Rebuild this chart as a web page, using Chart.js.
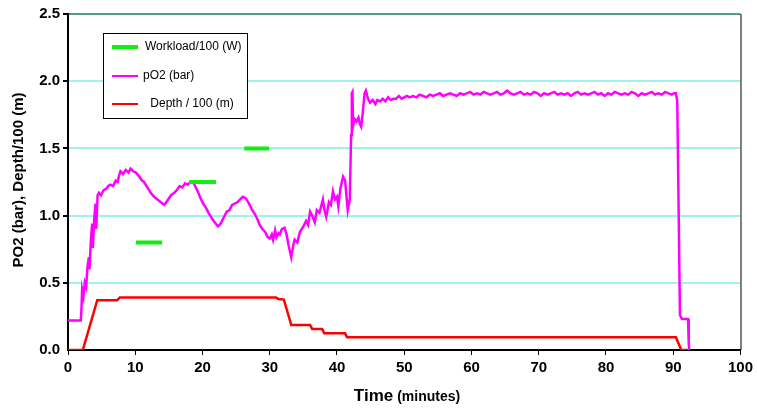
<!DOCTYPE html>
<html>
<head>
<meta charset="utf-8">
<script src="https://cdn.jsdelivr.net/npm/chart.js@4.4.1/dist/chart.umd.min.js"></script>
<style>
    html, body { margin: 0; padding: 0; background: #fff; }
    #wrap { width: 757px; height: 408px; }
</style>
</head>
<body>
<div id="wrap"><canvas id="myChart"></canvas></div>
<script>
// time in minutes
const pO2Time = [0, 1.0, 1.9, 2.0, 2.1, 2.3, 2.5, 2.7, 2.9, 3.1, 3.2, 3.4, 3.6, 3.7, 3.9, 4.1, 4.2, 4.4, 4.6, 4.9,
    5.3, 5.7, 6.0, 6.3, 6.7, 7.1, 7.4, 7.6, 7.8, 8.2, 8.6, 9.0, 9.3, 9.7, 10.1, 10.6, 11.0, 11.3, 11.8, 12.3,
    12.8, 13.3, 13.8, 14.3, 14.5, 14.9, 15.3, 15.8, 16.2, 16.6, 17.0, 17.4, 17.8, 18.2, 18.6, 18.9, 19.3, 19.7, 20.1, 20.5,
    20.9, 21.4, 21.8, 22.3, 22.7, 23.1, 23.6, 24.0, 24.4, 24.8, 25.2, 25.6, 26.0, 26.4, 26.8, 27.3, 27.8, 28.2, 28.5, 28.9,
    29.3, 29.7, 30.0, 30.3, 30.5, 30.8, 31.0, 31.3, 31.5, 31.8, 32.2, 32.5, 32.8, 33.2, 33.5, 33.7, 34.1, 34.5, 35.0, 35.4,
    35.7, 36.0, 36.3, 36.7, 37.0, 37.4, 37.9, 38.1, 38.4, 38.8, 39.1, 39.4, 39.7, 40.0, 40.2, 40.5, 40.9, 41.2, 41.6, 41.9,
    42.1, 42.2, 42.3, 42.4, 42.6, 42.9, 43.2, 43.4, 43.6, 43.9, 44.1, 44.3, 44.6, 44.9, 45.3, 45.7, 46.0, 46.4, 46.8, 47.2,
    47.6, 48.0, 48.4, 48.8, 49.2, 49.6, 50.0, 50.4, 50.8, 51.3, 51.8, 52.3, 52.8, 53.3, 53.8, 54.3, 54.8, 55.3, 55.8, 56.3,
    56.8, 57.3, 57.8, 58.3, 58.8, 59.3, 59.8, 60.3, 60.8, 61.3, 61.8, 62.3, 62.8, 63.3, 63.8, 64.3, 64.8, 65.3, 65.8, 66.3,
    66.8, 67.3, 67.8, 68.3, 68.8, 69.3, 69.8, 70.3, 70.8, 71.3, 71.8, 72.3, 72.8, 73.3, 73.8, 74.3, 74.8, 75.3, 75.8, 76.3,
    76.8, 77.3, 77.8, 78.3, 78.8, 79.3, 79.8, 80.3, 80.8, 81.3, 81.8, 82.3, 82.8, 83.3, 83.8, 84.3, 84.8, 85.3, 85.8, 86.3,
    86.8, 87.3, 87.8, 88.3, 88.8, 89.3, 89.8, 90.1, 90.4, 90.6, 91.0, 91.3, 91.7, 92.2, 92.3, 92.4];
const pO2Values = [0.22, 0.22, 0.22, 0.30, 0.45, 0.40, 0.50, 0.47, 0.62, 0.69, 0.60, 0.82, 0.94, 0.76, 0.98, 1.09, 0.90, 1.15, 1.17, 1.15,
    1.19, 1.20, 1.22, 1.23, 1.22, 1.26, 1.25, 1.30, 1.33, 1.31, 1.34, 1.32, 1.35, 1.33, 1.32, 1.29, 1.26, 1.25, 1.21, 1.17,
    1.14, 1.12, 1.10, 1.08, 1.09, 1.12, 1.15, 1.17, 1.19, 1.22, 1.21, 1.24, 1.23, 1.25, 1.25, 1.22, 1.18, 1.13, 1.09, 1.06,
    1.02, 0.98, 0.95, 0.92, 0.94, 0.98, 1.03, 1.04, 1.08, 1.09, 1.10, 1.12, 1.14, 1.13, 1.10, 1.05, 1.01, 0.97, 0.93, 0.90,
    0.88, 0.84, 0.83, 0.86, 0.82, 0.89, 0.84, 0.87, 0.86, 0.90, 0.91, 0.86, 0.78, 0.69, 0.78, 0.82, 0.80, 0.88, 0.92, 0.96,
    0.93, 1.03, 1.00, 0.95, 1.04, 1.02, 1.12, 1.05, 0.99, 1.10, 1.08, 1.18, 1.12, 1.14, 1.07, 1.20, 1.29, 1.26, 1.04, 1.12,
    1.60, 1.91, 1.92, 1.67, 1.72, 1.70, 1.73, 1.68, 1.66, 1.80, 1.91, 1.93, 1.87, 1.84, 1.86, 1.83, 1.86, 1.85, 1.87, 1.85,
    1.88, 1.86, 1.87, 1.87, 1.89, 1.87, 1.88, 1.89, 1.88, 1.89, 1.88, 1.90, 1.89, 1.88, 1.90, 1.89, 1.90, 1.91, 1.89, 1.90,
    1.91, 1.90, 1.89, 1.91, 1.90, 1.91, 1.92, 1.90, 1.91, 1.90, 1.92, 1.91, 1.90, 1.91, 1.92, 1.90, 1.91, 1.93, 1.91, 1.90,
    1.91, 1.92, 1.90, 1.91, 1.90, 1.92, 1.91, 1.89, 1.91, 1.90, 1.91, 1.92, 1.90, 1.91, 1.90, 1.91, 1.89, 1.91, 1.92, 1.90,
    1.91, 1.90, 1.91, 1.92, 1.90, 1.91, 1.89, 1.91, 1.90, 1.92, 1.91, 1.90, 1.91, 1.90, 1.92, 1.91, 1.89, 1.91, 1.90, 1.91,
    1.92, 1.90, 1.91, 1.90, 1.92, 1.91, 1.90, 1.91, 1.91, 1.85, 0.26, 0.23, 0.23, 0.23, 0.05, 0.0];

const depthTime = [0, 2.2, 4.35, 7.3, 7.7, 30.9, 31.3, 32.1, 33.2, 36.0, 36.3, 37.8, 38.1, 41.2, 41.5, 90.4, 91.2, 92.4];
const depthValues = [0, 0, 0.37, 0.37, 0.39, 0.39, 0.38, 0.375, 0.186, 0.186, 0.157, 0.157, 0.124, 0.124, 0.094, 0.094, 0, 0];

const workloadStart = [10.1, 18.0, 26.2];
const workloadEnd = [14.0, 22.0, 29.9];
const workloadLevel = [0.8, 1.25, 1.5];

const xTicks = [0, 10, 20, 30, 40, 50, 60, 70, 80, 90, 100];
const yTicks = [0, 0.5, 1.0, 1.5, 2.0, 2.5];

const labels = ['Workload/100 (W)', 'pO2 (bar)', ' Depth / 100 (m)'];
const colors = ['#11ee11', '#ff00ff', '#ff0000'];

function toPoints(xs, ys) {
    return xs.map((x, i) => ({ x: x, y: ys[i] }));
}

let workloadPoints = [];
for (let i = 0; i < workloadStart.length; i++) {
    workloadPoints.push({ x: workloadStart[i], y: workloadLevel[i] });
    workloadPoints.push({ x: workloadEnd[i], y: workloadLevel[i] });
    workloadPoints.push({ x: workloadEnd[i] + 0.01, y: null });
}

const font = '"Liberation Sans", Arial, sans-serif';

const decorPlugin = {
    id: 'decor',
    afterDraw(chart) {
        const ctx = chart.ctx;
        const area = chart.chartArea;
        ctx.save();
        // right frame line
        ctx.strokeStyle = '#000';
        ctx.lineWidth = 1;
        ctx.beginPath();
        ctx.moveTo(area.right + 0.5, area.top);
        ctx.lineTo(area.right + 0.5, area.bottom);
        ctx.stroke();

        // legend box
        const bx = 103, by = 33, bw = 144, bh = 85;
        ctx.fillStyle = '#fff';
        ctx.fillRect(bx, by, bw, bh);
        ctx.strokeStyle = '#000';
        ctx.strokeRect(bx + 0.5, by + 0.5, bw, bh);
        const rows = [47, 76, 104];
        const widths = [4, 2, 2];
        const textX = [145, 143, 147];
        ctx.font = '12px ' + font;
        ctx.textBaseline = 'middle';
        for (let i = 0; i < labels.length; i++) {
            ctx.strokeStyle = colors[i];
            ctx.lineWidth = widths[i];
            ctx.beginPath();
            ctx.moveTo(112, rows[i]);
            ctx.lineTo(138, rows[i]);
            ctx.stroke();
            ctx.fillStyle = '#000';
            ctx.textAlign = 'left';
            ctx.fillText(labels[i], textX[i], rows[i]);
        }

        // x axis title: mixed font sizes
        ctx.fillStyle = '#000';
        ctx.textBaseline = 'alphabetic';
        ctx.textAlign = 'left';
        const part1 = 'Time', part2 = ' (minutes)';
        ctx.font = 'bold 17px ' + font;
        const w1 = ctx.measureText(part1).width;
        ctx.font = 'bold 14px ' + font;
        const w2 = ctx.measureText(part2).width;
        const cx = 407;
        let sx = cx - (w1 + w2) / 2;
        ctx.font = 'bold 17px ' + font;
        ctx.fillText(part1, sx, 401);
        ctx.font = 'bold 14px ' + font;
        ctx.fillText(part2, sx + w1, 401);

        // y axis title
        ctx.translate(19, 180);
        ctx.rotate(-Math.PI / 2);
        ctx.textAlign = 'center';
        ctx.textBaseline = 'middle';
        ctx.font = 'bold 15px ' + font;
        ctx.fillText('PO2 (bar), Depth/100 (m)', 0, 0);
        ctx.restore();
    }
};

const ctx = document.getElementById('myChart').getContext('2d');
const myChart = new Chart(ctx, {
    type: 'line',
    data: {
        datasets: [{
            label: labels[0],
            data: workloadPoints,
            borderColor: colors[0],
            borderWidth: 4,
            pointRadius: 0,
            spanGaps: false,
        }, {
            label: labels[1],
            data: toPoints(pO2Time, pO2Values),
            borderColor: colors[1],
            borderWidth: 2.5,
            pointRadius: 0,
        }, {
            label: labels[2],
            data: toPoints(depthTime, depthValues),
            borderColor: colors[2],
            borderWidth: 2.5,
            pointRadius: 0,
        }]
    },
    options: {
        responsive: true,
        maintainAspectRatio: false,
        animation: false,
        layout: { padding: { left: 0, right: 16, top: 14, bottom: 0 } },
        scales: {
            x: {
                type: 'linear',
                min: 0,
                max: 100,
                afterBuildTicks: scale => { scale.ticks = xTicks.map(v => ({ value: v })); },
                afterFit: scale => { scale.height = 58; },
                border: { color: '#000', width: 2 },
                grid: { drawOnChartArea: false, tickColor: '#000', tickLength: 5, tickWidth: 1 },
                ticks: { color: '#000', font: { family: font, size: 15, weight: 'bold' }, padding: 4, maxRotation: 0 },
            },
            y: {
                min: 0,
                max: 2.5,
                afterBuildTicks: scale => { scale.ticks = yTicks.map(v => ({ value: v })); },
                afterFit: scale => { scale.width = 68; },
                border: { color: '#000', width: 2 },
                grid: {
                    color: c => c.tick && c.tick.value === 2.5 ? '#4f9c8f' : '#9ff2ee',
                    lineWidth: c => c.tick && c.tick.value === 0 ? 0 : 2,
                    tickColor: '#000',
                    tickLength: 5,
                },
                ticks: {
                    color: '#000',
                    font: { family: font, size: 15, weight: 'bold' },
                    padding: 3,
                    callback: v => v.toFixed(1),
                },
            },
        },
        plugins: {
            legend: { display: false },
            tooltip: { enabled: false },
        },
    },
    plugins: [decorPlugin],
});
</script>
</body>
</html>
